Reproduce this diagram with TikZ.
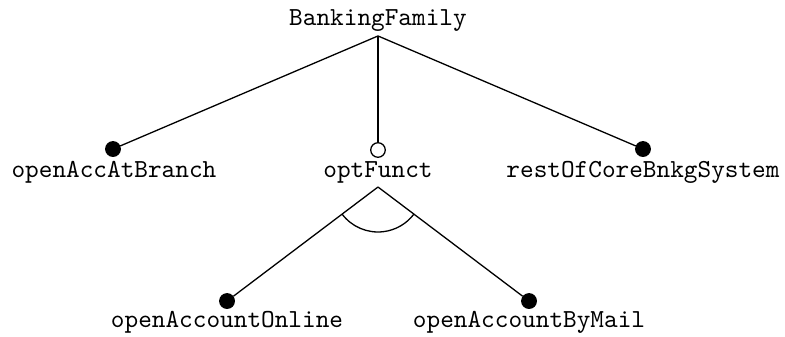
\documentclass[tikz,border=0pt]{standalone}
\begin{document}
\begin{tikzpicture}[line width=0.5pt,feat/.style={font=\ttfamily,anchor=base,inner sep=0pt},
  mand/.style={circle,draw,fill=black,inner sep=0pt,minimum size=5.6pt},
  opt/.style={circle,draw,fill=white,inner sep=0pt,minimum size=5.6pt}]
\useasboundingbox (0,0) rectangle (10.608,-4.554);

\node[feat] (bank) at (5.108,-0.338) {BankingFamily};
\coordinate (bankp) at (5.108,-0.486);

\node[feat] (branch) at (1.54,-2.392) {openAccAtBranch};
\node[feat] (optf) at (5.108,-2.392) {optFunct};
\node[feat] (core) at (8.689,-2.392) {restOfCoreBnkgSystem};
\node[mand] (branchd) at (1.527,-2.014) {};
\node[opt] (optfd) at (5.108,-2.027) {};
\node[mand] (cored) at (8.689,-2.014) {};
\draw (bankp) -- (branchd);
\draw (bankp) -- (optfd);
\draw (bankp) -- (cored);

% alternative group below optFunct
\coordinate (optp) at (5.108,-2.527);
\node[feat] (online) at (3.068,-4.419) {openAccountOnline};
\node[feat] (mail) at (7.149,-4.419) {openAccountByMail};
\node[mand] (onlined) at (3.068,-4.068) {};
\node[mand] (maild) at (7.149,-4.068) {};
\draw (optp) -- (onlined);
\draw (optp) -- (maild);
\draw (optp) ++(217:0.608) arc (217:323:0.608);
\end{tikzpicture}
\end{document}
